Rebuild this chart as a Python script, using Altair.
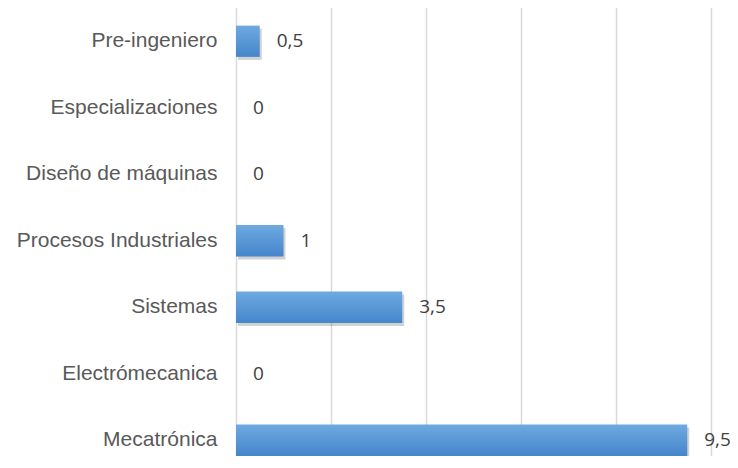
import altair as alt
import pandas as pd

categorias = ["Pre-ingeniero", "Especializaciones", "Diseño de máquinas",
              "Procesos Industriales", "Sistemas", "Electrómecanica", "Mecatrónica"]
valores = [0.5, 0, 0, 1, 3.5, 0, 9.5]

df = pd.DataFrame({"categoria": categorias, "valor": valores})

y_enc = alt.Y("categoria:N", sort=categorias, title=None,
              scale=alt.Scale(range=[0, 465.5], paddingInner=0.53, paddingOuter=0.265),
              axis=alt.Axis(domain=False, ticks=False, labelFont="Liberation Sans",
                            labelFontSize=21, labelColor="#595959", labelPadding=19,
                            labelLimit=300))
x_enc = alt.X("valor:Q", title=None,
              scale=alt.Scale(domain=[0, 10], nice=False),
              axis=alt.Axis(values=[0, 2, 4, 6, 8, 10], labels=False, ticks=False,
                            domain=False, grid=True, gridColor="#d9d9d9", gridWidth=1.5))

base = alt.Chart(df)

shadow = base.mark_bar(color="#000000", opacity=0.18, xOffset=2, yOffset=3).encode(
    x=x_enc, y=y_enc)

bars = base.mark_bar(
    color=alt.Gradient(gradient="linear", x1=0, y1=0, x2=0, y2=1,
                       stops=[alt.GradientStop(offset=0, color="#6eaae0"),
                              alt.GradientStop(offset=1, color="#4585cb")])
).encode(x=x_enc, y=y_enc)

text = base.transform_calculate(
    etiqueta="replace(toString(datum.valor), '.', ',')"
).mark_text(align="left", baseline="middle", dx=17, font="Open Sans",
            fontSize=19, color="#404040").encode(
    x=x_enc, y=y_enc, text="etiqueta:N")

chart = (shadow + bars + text).properties(
    width=475, height=448,
    autosize=alt.AutoSizeParams(type="none"),
    padding={"left": 228, "top": 0, "right": 19, "bottom": 0},
).configure_view(stroke=None)

chart.save("out.html", embed_options={"renderer": "svg", "actions": False})
